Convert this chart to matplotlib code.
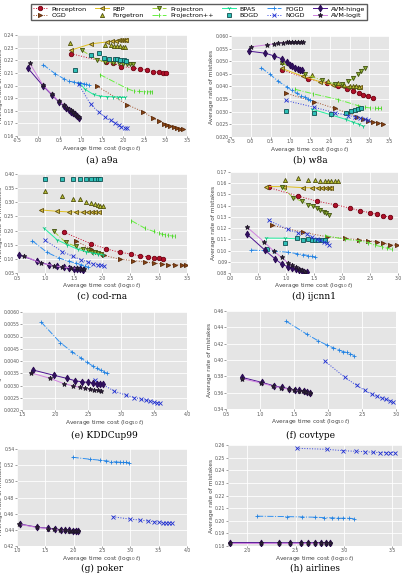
import matplotlib
matplotlib.use("Agg")
import matplotlib.pyplot as plt
import matplotlib.lines as mlines

methods = ["Perceptron", "OGD", "RBP", "Forgetron", "Projectron", "Projectron++",
           "BPAS", "BOGD", "FOGD", "NOGD", "AVM-hinge", "AVM-logit"]

# ---------------- (a) a9a ----------------
a9a = {
    "Perceptron": ([0.77, 1.60, 1.77, 1.95, 2.23, 2.40, 2.56, 2.71, 2.83, 2.94, 3.01],
                   [0.2252, 0.2184, 0.2178, 0.2150, 0.2140, 0.2131, 0.2122, 0.2110, 0.2104, 0.2100, 0.2097]),
    "RBP": ([0.77, 1.24, 1.62, 1.73, 1.83, 1.89, 1.95, 1.99, 2.03, 2.07],
            [0.2280, 0.2330, 0.2345, 0.2352, 0.2355, 0.2357, 0.2358, 0.2359, 0.2360, 0.2360]),
    "Forgetron": ([0.74, 1.58, 1.70, 1.78, 1.86, 1.93, 1.99, 2.05],
                  [0.2340, 0.2322, 0.2318, 0.2315, 0.2312, 0.2310, 0.2308, 0.2305]),
    "Projectron": ([1.03, 1.38, 1.58, 1.77, 1.89, 1.99, 2.09, 2.17, 2.23],
                   [0.2278, 0.2205, 0.2186, 0.2178, 0.2176, 0.2171, 0.2171, 0.2168, 0.2168]),
    "BOGD": ([0.86, 1.23, 1.42, 1.54, 1.67, 1.81, 1.85, 1.93, 2.01, 2.07],
             [0.2124, 0.2239, 0.2254, 0.2220, 0.2208, 0.2211, 0.2208, 0.2203, 0.2200, 0.2198]),
    "Projectron++": ([1.45, 2.09, 2.25, 2.36, 2.48, 2.56, 2.64, 2.68],
                     [0.2087, 0.1976, 0.1955, 0.1953, 0.1951, 0.1950, 0.1950, 0.1950]),
    "BPAS": ([0.97, 1.10, 1.30, 1.46, 1.62, 1.77, 1.87, 1.95, 2.03],
             [0.2022, 0.1970, 0.1929, 0.1915, 0.1912, 0.1910, 0.1908, 0.1906, 0.1905]),
    "FOGD": ([0.11, 0.40, 0.60, 0.73, 0.83, 0.93, 0.99, 1.07, 1.13, 1.19],
             [0.2166, 0.2093, 0.2054, 0.2033, 0.2028, 0.2022, 0.2017, 0.2015, 0.2010, 0.2007]),
    "NOGD": ([0.95, 1.23, 1.42, 1.58, 1.70, 1.81, 1.89, 1.95, 2.03, 2.09],
             [0.2009, 0.1853, 0.1788, 0.1749, 0.1723, 0.1702, 0.1684, 0.1672, 0.1666, 0.1664]),
    "OGD": ([1.38, 2.09, 2.46, 2.70, 2.83, 2.95, 3.03, 3.11, 3.19, 3.27, 3.34, 3.41],
            [0.1996, 0.1848, 0.1793, 0.1744, 0.1720, 0.1697, 0.1687, 0.1679, 0.1671, 0.1663, 0.1658, 0.1652]),
    "AVM-hinge": ([-0.25, 0.11, 0.32, 0.48, 0.60, 0.66, 0.72, 0.77, 0.82, 0.87, 0.91, 0.97],
                  [0.2140, 0.1998, 0.1925, 0.1871, 0.1840, 0.1819, 0.1806, 0.1793, 0.1783, 0.1772, 0.1760, 0.1740]),
    "AVM-logit": ([-0.20, 0.11, 0.32, 0.48, 0.60, 0.68, 0.76, 0.82, 0.87, 0.92, 0.96],
                  [0.2176, 0.2003, 0.1931, 0.1876, 0.1845, 0.1823, 0.1805, 0.1787, 0.1774, 0.1760, 0.1748]),
}

# ---------------- (b) w8a ----------------
w8a = {
    "AVM-logit": ([0.0, 0.40, 0.60, 0.70, 0.82, 0.91, 0.97, 1.04, 1.12, 1.20, 1.27, 1.33],
                  [0.0557, 0.0565, 0.0569, 0.0572, 0.0574, 0.0575, 0.0575, 0.0575, 0.0575, 0.0575, 0.0575, 0.0575]),
    "AVM-hinge": ([-0.04, 0.36, 0.60, 0.78, 0.91, 0.99, 1.05, 1.12, 1.19, 1.25, 1.31],
                  [0.0540, 0.0532, 0.0521, 0.0510, 0.0497, 0.0487, 0.0480, 0.0475, 0.0470, 0.0466, 0.0464]),
    "FOGD": ([0.26, 0.49, 0.70, 0.91, 1.04, 1.16, 1.27, 1.37, 1.44, 1.50],
             [0.0475, 0.0448, 0.0420, 0.0399, 0.0385, 0.0374, 0.0364, 0.0358, 0.0351, 0.0346]),
    "RBP": ([0.78, 1.33, 1.75, 2.07, 2.30, 2.47, 2.60, 2.68, 2.76],
            [0.0472, 0.0440, 0.0419, 0.0405, 0.0400, 0.0399, 0.0399, 0.0398, 0.0398]),
    "Forgetron": ([0.78, 1.54, 1.96, 2.20, 2.37, 2.50, 2.58, 2.67, 2.75],
                  [0.0497, 0.0446, 0.0422, 0.0412, 0.0405, 0.0402, 0.0401, 0.0400, 0.0399]),
    "Perceptron": ([0.78, 1.46, 1.92, 2.22, 2.43, 2.60, 2.73, 2.85, 2.98, 3.10],
                   [0.0466, 0.0430, 0.0414, 0.0400, 0.0392, 0.0383, 0.0375, 0.0368, 0.0361, 0.0353]),
    "Projectron": ([0.78, 1.37, 1.80, 2.13, 2.30, 2.47, 2.60, 2.71, 2.79, 2.88],
                   [0.0494, 0.0448, 0.0425, 0.0410, 0.0410, 0.0420, 0.0432, 0.0448, 0.0461, 0.0475]),
    "Projectron++": ([1.12, 1.58, 2.22, 2.72, 2.89, 3.02, 3.14, 3.23, 3.31],
                     [0.0389, 0.0371, 0.0348, 0.0324, 0.0318, 0.0315, 0.0314, 0.0313, 0.0313]),
    "OGD": ([0.88, 1.60, 2.13, 2.47, 2.68, 2.85, 2.98, 3.10, 3.23, 3.36],
            [0.0374, 0.0340, 0.0313, 0.0294, 0.0281, 0.0273, 0.0265, 0.0259, 0.0255, 0.0252]),
    "NOGD": ([0.88, 1.60, 2.13, 2.47, 2.64, 2.77, 2.89, 2.98],
             [0.0345, 0.0318, 0.0296, 0.0285, 0.0279, 0.0275, 0.0271, 0.0268]),
    "BOGD": ([0.88, 1.60, 2.03, 2.40, 2.55, 2.64, 2.72, 2.80],
             [0.0304, 0.0296, 0.0292, 0.0296, 0.0301, 0.0305, 0.0310, 0.0315]),
    "BPAS": ([1.55, 2.03, 2.40, 2.60, 2.74, 2.84],
             [0.0310, 0.0288, 0.0270, 0.0258, 0.0250, 0.0244]),
}

# ---------------- (c) cod-rna ----------------
codrna = {
    "BOGD": ([1.0, 1.30, 1.49, 1.61, 1.72, 1.80, 1.87, 1.93, 1.97],
             [0.381, 0.381, 0.381, 0.381, 0.381, 0.381, 0.381, 0.381, 0.381]),
    "Forgetron": ([0.99, 1.30, 1.48, 1.61, 1.72, 1.80, 1.87, 1.93, 1.97, 2.02],
                  [0.341, 0.322, 0.313, 0.311, 0.300, 0.297, 0.293, 0.291, 0.288, 0.286]),
    "RBP": ([0.92, 1.21, 1.42, 1.54, 1.66, 1.75, 1.82, 1.88, 1.94],
            [0.273, 0.268, 0.266, 0.266, 0.265, 0.265, 0.265, 0.264, 0.264]),
    "Projectron++": ([2.52, 2.76, 2.91, 3.00, 3.06, 3.12, 3.17, 3.23, 3.28],
                     [0.235, 0.208, 0.197, 0.191, 0.187, 0.185, 0.183, 0.181, 0.180]),
    "Perceptron": ([1.33, 1.81, 2.07, 2.31, 2.52, 2.67, 2.82, 2.91, 3.00, 3.07],
                   [0.194, 0.153, 0.136, 0.123, 0.117, 0.110, 0.107, 0.104, 0.102, 0.100]),
    "OGD": ([1.54, 1.81, 2.04, 2.31, 2.55, 2.76, 2.91, 3.06, 3.17, 3.29, 3.41, 3.48],
            [0.164, 0.134, 0.112, 0.099, 0.094, 0.089, 0.085, 0.082, 0.080, 0.079, 0.078, 0.077]),
    "Projectron": ([1.15, 1.36, 1.54, 1.66, 1.75, 1.82, 1.88, 1.93, 1.99],
                   [0.197, 0.158, 0.144, 0.134, 0.130, 0.126, 0.123, 0.120, 0.118]),
    "BPAS": ([0.98, 1.21, 1.39, 1.57, 1.72, 1.84, 1.93, 2.02],
             [0.208, 0.167, 0.150, 0.134, 0.126, 0.120, 0.117, 0.114]),
    "NOGD": ([1.0, 1.30, 1.48, 1.63, 1.75, 1.84, 1.93, 1.99, 2.04],
             [0.165, 0.126, 0.109, 0.097, 0.089, 0.083, 0.079, 0.077, 0.076]),
    "FOGD": ([0.77, 1.03, 1.24, 1.42, 1.54, 1.63, 1.70, 1.75],
             [0.164, 0.123, 0.103, 0.091, 0.085, 0.079, 0.076, 0.072]),
    "AVM-hinge": ([0.54, 0.86, 1.06, 1.21, 1.33, 1.42, 1.50, 1.56, 1.62, 1.66],
                  [0.114, 0.091, 0.079, 0.073, 0.070, 0.067, 0.065, 0.064, 0.063, 0.062]),
    "AVM-logit": ([0.62, 0.92, 1.15, 1.30, 1.45, 1.56, 1.63, 1.69],
                  [0.111, 0.085, 0.076, 0.071, 0.069, 0.066, 0.065, 0.064]),
}

# ---------------- (d) ijcnn1 ----------------
ijcnn1 = {
    "Forgetron": ([0.98, 1.22, 1.40, 1.52, 1.61, 1.69, 1.75, 1.81, 1.87, 1.93],
                  [0.1633, 0.1645, 0.1630, 0.1625, 0.1617, 0.1617, 0.1617, 0.1617, 0.1617, 0.1617]),
    "RBP": ([0.64, 0.97, 1.31, 1.46, 1.57, 1.64, 1.71, 1.76, 1.81],
            [0.1570, 0.1570, 0.1560, 0.1560, 0.1560, 0.1560, 0.1560, 0.1560, 0.1560]),
    "Perceptron": ([0.69, 1.22, 1.55, 1.88, 2.15, 2.33, 2.50, 2.62, 2.74, 2.86],
                   [0.1562, 0.1485, 0.1440, 0.1408, 0.1378, 0.1353, 0.1338, 0.1323, 0.1310, 0.1295]),
    "Projectron": ([0.92, 1.13, 1.28, 1.40, 1.49, 1.55, 1.61, 1.67, 1.72, 1.76],
                   [0.1570, 0.1470, 0.1440, 0.1410, 0.1393, 0.1378, 0.1362, 0.1347, 0.1338, 0.1317]),
    "NOGD": ([0.69, 1.03, 1.22, 1.37, 1.46, 1.55, 1.61, 1.67, 1.73, 1.76],
             [0.1270, 0.1188, 0.1157, 0.1148, 0.1117, 0.1102, 0.1093, 0.1077, 0.1065, 0.1053]),
    "OGD": ([0.75, 1.31, 1.73, 2.06, 2.30, 2.47, 2.62, 2.74, 2.86, 2.98],
            [0.1225, 0.1163, 0.1123, 0.1108, 0.1096, 0.1087, 0.1077, 0.1065, 0.1053, 0.1047]),
    "BPAS": ([0.64, 0.98, 1.28, 1.40, 1.52, 1.64, 1.70],
             [0.1111, 0.1110, 0.1102, 0.1102, 0.1102, 0.1102, 0.1102]),
    "BOGD": ([0.66, 0.98, 1.19, 1.31, 1.40, 1.46, 1.52, 1.58, 1.64, 1.69],
             [0.1016, 0.1071, 0.1111, 0.1093, 0.1102, 0.1096, 0.1093, 0.1090, 0.1090, 0.1093]),
    "Projectron++": ([1.70, 2.06, 2.30, 2.47, 2.59, 2.71, 2.80, 2.89],
                     [0.1133, 0.1100, 0.1087, 0.1071, 0.1047, 0.1034, 0.1022, 0.1010]),
    "FOGD": ([0.38, 0.78, 1.04, 1.19, 1.31, 1.40, 1.46, 1.52],
             [0.1004, 0.0995, 0.0985, 0.0973, 0.0964, 0.0955, 0.0949, 0.0942]),
    "AVM-hinge": ([0.30, 0.63, 0.81, 0.92, 1.03, 1.10, 1.17, 1.23, 1.28, 1.33, 1.37],
                  [0.1148, 0.1001, 0.0924, 0.0881, 0.0856, 0.0847, 0.0835, 0.0826, 0.0820, 0.0813, 0.0807]),
    "AVM-logit": ([0.30, 0.61, 0.78, 0.92, 1.03, 1.10, 1.17, 1.23, 1.28, 1.34],
                  [0.1210, 0.1077, 0.0995, 0.0939, 0.0893, 0.0872, 0.0850, 0.0838, 0.0826, 0.0813]),
}

# ---------------- (e) KDDCup99 ----------------
kdd = {
    "FOGD": ([1.79, 2.08, 2.26, 2.39, 2.49, 2.57, 2.63, 2.69, 2.74, 2.79],
             [0.00559, 0.00475, 0.00437, 0.00413, 0.00394, 0.00380, 0.00370, 0.00363, 0.00356, 0.00349]),
    "AVM-hinge": ([1.67, 1.98, 2.18, 2.31, 2.41, 2.50, 2.57, 2.63, 2.68, 2.73],
                  [0.00363, 0.00342, 0.00329, 0.00319, 0.00315, 0.00313, 0.00311, 0.00308, 0.00307, 0.00306]),
    "AVM-logit": ([1.63, 1.93, 2.13, 2.28, 2.38, 2.46, 2.53, 2.59, 2.65, 2.70],
                  [0.00352, 0.00329, 0.00308, 0.00298, 0.00292, 0.00288, 0.00285, 0.00283, 0.00280, 0.00279]),
    "NOGD": ([2.60, 2.90, 3.07, 3.20, 3.30, 3.38, 3.44, 3.50, 3.55, 3.59],
             [0.00322, 0.00277, 0.00261, 0.00251, 0.00245, 0.00240, 0.00235, 0.00233, 0.00230, 0.00228]),
}

# ---------------- (f) covtype ----------------
covtype = {
    "FOGD": ([1.38, 1.69, 1.85, 1.98, 2.07, 2.16, 2.22, 2.28, 2.33, 2.38],
             [0.4478, 0.4315, 0.4238, 0.4185, 0.4152, 0.4124, 0.4104, 0.4092, 0.4075, 0.4055]),
    "NOGD": ([1.95, 2.25, 2.42, 2.54, 2.64, 2.72, 2.79, 2.85, 2.91, 2.95],
             [0.3990, 0.3786, 0.3689, 0.3628, 0.3583, 0.3554, 0.3534, 0.3518, 0.3502, 0.3485]),
    "AVM-hinge": ([0.74, 1.03, 1.20, 1.32, 1.43, 1.51, 1.58, 1.64, 1.69, 1.74],
                  [0.3786, 0.3725, 0.3685, 0.3664, 0.3648, 0.3636, 0.3628, 0.3620, 0.3607, 0.3598]),
    "AVM-logit": ([0.73, 1.02, 1.19, 1.31, 1.42, 1.50, 1.57, 1.63, 1.68, 1.73],
                  [0.3772, 0.3718, 0.3680, 0.3660, 0.3643, 0.3631, 0.3623, 0.3615, 0.3603, 0.3594]),
}

# ---------------- (g) poker ----------------
poker = {
    "FOGD": ([1.98, 2.28, 2.46, 2.57, 2.66, 2.74, 2.81, 2.87, 2.93, 2.98],
             [0.5298, 0.5274, 0.5262, 0.5254, 0.5245, 0.5241, 0.5237, 0.5233, 0.5233, 0.5229]),
    "NOGD": ([2.69, 2.99, 3.17, 3.31, 3.41, 3.50, 3.57, 3.63, 3.69, 3.73],
             [0.4562, 0.4533, 0.4521, 0.4509, 0.4501, 0.4493, 0.4489, 0.4485, 0.4485, 0.4481]),
    "AVM-hinge": ([1.05, 1.36, 1.55, 1.67, 1.77, 1.85, 1.92, 1.98, 2.04, 2.08],
                  [0.4472, 0.4432, 0.4420, 0.4411, 0.4403, 0.4399, 0.4395, 0.4391, 0.4391, 0.4391]),
    "AVM-logit": ([1.04, 1.35, 1.54, 1.66, 1.76, 1.84, 1.91, 1.97, 2.03, 2.07],
                  [0.4468, 0.4430, 0.4415, 0.4405, 0.4398, 0.4394, 0.4390, 0.4388, 0.4386, 0.4386]),
}

# ---------------- (h) airlines ----------------
airlines = {
    "NOGD": ([2.51, 2.82, 2.99, 3.12, 3.22, 3.30, 3.37, 3.43, 3.48, 3.53],
             [0.2574, 0.2566, 0.2555, 0.2550, 0.2547, 0.2542, 0.2540, 0.2540, 0.2540, 0.2540]),
    "FOGD": ([2.10, 2.41, 2.57, 2.70, 2.79, 2.88, 2.94, 2.99, 3.05, 3.10],
             [0.2036, 0.2033, 0.2030, 0.2028, 0.2025, 0.2023, 0.2020, 0.2020, 0.2020, 0.2017]),
    "AVM-hinge": ([1.82, 2.14, 2.33, 2.44, 2.55, 2.63, 2.70, 2.76, 2.81, 2.86],
                  [0.1827, 0.1827, 0.1826, 0.1826, 0.1826, 0.1826, 0.1826, 0.1826, 0.1826, 0.1826]),
    "AVM-logit": ([1.82, 2.14, 2.33, 2.44, 2.55, 2.63, 2.70, 2.76, 2.81, 2.86],
                  [0.1825, 0.1825, 0.1825, 0.1825, 0.1825, 0.1825, 0.1825, 0.1825, 0.1825, 0.1825]),
}

styles = {
    "Perceptron":   dict(color="#C8102E", marker="o", ls=":", mfc="#B0102A", mec="#700010", ms=3.2),
    "OGD":          dict(color="#A0522D", marker=">", ls=":", mfc="#8B4513", mec="#5A2A0A", ms=3.0),
    "RBP":          dict(color="#E0C020", marker="<", ls="-", mfc="#D8C040", mec="#605010", ms=3.0),
    "Forgetron":    dict(color="#C8D050", marker="^", ls="", mfc="#B8C030", mec="#505010", ms=3.0),
    "Projectron":   dict(color="#9ACD32", marker="v", ls="-.", mfc="#8DB030", mec="#405010", ms=3.0),
    "Projectron++": dict(color="#66F040", marker="|", ls="-.", mfc="#66F040", mec="#44D020", ms=3.5),
    "BPAS":         dict(color="#20F0A0", marker="1", ls="-", mfc="#20F0A0", mec="#10C080", ms=3.0),
    "BOGD":         dict(color="#20B2AA", marker="s", ls="", mfc="#30C0B8", mec="#105050", ms=3.0),
    "FOGD":         dict(color="#3090F0", marker="+", ls="-.", mfc="#3090F0", mec="#2080E0", ms=3.5),
    "NOGD":         dict(color="#3040E0", marker="x", ls=":", mfc="#2030D0", mec="#2030D0", ms=3.2),
    "AVM-hinge":    dict(color="#4B1090", marker="d", ls="-", mfc="#301060", mec="#2A0A50", ms=3.5),
    "AVM-logit":    dict(color="#D080E0", marker="*", ls="-", mfc="#302040", mec="#201828", ms=3.5),
}

W, H = 404, 573
fig = plt.figure(figsize=(W / 100, H / 100), dpi=100)

def px_axes(l, r, t, b):
    return [l / W, 1 - b / H, (r - l) / W, (b - t) / H]

panels = [
    (a9a, px_axes(17, 187, 35, 136), (-0.5, 3.5), (0.16, 0.24),
     [-0.5, 0, 0.5, 1.0, 1.5, 2.0, 2.5, 3.0, 3.5], [0.16, 0.17, 0.18, 0.19, 0.20, 0.21, 0.22, 0.23, 0.24], "%.2f", "(a) a9a", 160),
    (w8a, px_axes(231, 389, 36, 137), (-0.5, 3.5), (0.020, 0.060),
     [-0.5, 0, 0.5, 1.0, 1.5, 2.0, 2.5, 3.0, 3.5], [0.020, 0.025, 0.030, 0.035, 0.040, 0.045, 0.050, 0.055, 0.060], "%.3f", "(b) w8a", 160),
    (codrna, px_axes(17, 187, 174, 273), (0.5, 3.5), (0.05, 0.40),
     [0.5, 1.0, 1.5, 2.0, 2.5, 3.0, 3.5], [0.05, 0.10, 0.15, 0.20, 0.25, 0.30, 0.35, 0.40], "%.2f", "(c) cod-rna", 296),
    (ijcnn1, px_axes(230, 398, 172, 273), (0.0, 3.0), (0.08, 0.17),
     [0.0, 0.5, 1.0, 1.5, 2.0, 2.5, 3.0], [0.08, 0.09, 0.10, 0.11, 0.12, 0.13, 0.14, 0.15, 0.16, 0.17], "%.2f", "(d) ijcnn1", 296),
    (kdd, px_axes(22, 187, 312, 410), (1.5, 4.0), (0.0020, 0.0060),
     [1.5, 2.0, 2.5, 3.0, 3.5, 4.0], [0.0020, 0.0025, 0.0030, 0.0035, 0.0040, 0.0045, 0.0050, 0.0055, 0.0060], "%.4f", "(e) KDDCup99", 435),
    (covtype, px_axes(226, 396, 311, 409), (0.5, 3.0), (0.34, 0.46),
     [0.5, 1.0, 1.5, 2.0, 2.5, 3.0], [0.34, 0.36, 0.38, 0.40, 0.42, 0.44, 0.46], "%.2f", "(f) covtype", 435),
    (poker, px_axes(17, 187, 449, 546), (1.0, 4.0), (0.42, 0.54),
     [1.0, 1.5, 2.0, 2.5, 3.0, 3.5, 4.0], [0.42, 0.44, 0.46, 0.48, 0.50, 0.52, 0.54], "%.2f", "(g) poker", 568),
    (airlines, px_axes(228, 402, 445, 546), (1.8, 3.6), (0.18, 0.26),
     [2.0, 2.5, 3.0, 3.5], [0.18, 0.19, 0.20, 0.21, 0.22, 0.23, 0.24, 0.25, 0.26], "%.2f", "(h) airlines", 568),
]

for data, rect, xl, yl, xt, yt, yfmt, caption, cap_y in panels:
    ax = fig.add_axes(rect)
    ax.set_facecolor("#E5E5E5")
    for s in ax.spines.values():
        s.set_visible(False)
    ax.grid(True, color="white", lw=0.6)
    ax.set_axisbelow(True)
    for m in methods:
        if m in data:
            xs, ys = data[m]
            st = dict(styles[m])
            ls = st.pop("ls")
            ax.plot(xs, ys, linestyle=ls if ls else "none", lw=0.7,
                    markeredgewidth=0.6, **st, label=m)
    ax.set_xlim(*xl)
    ax.set_ylim(*yl)
    ax.set_xticks(xt)
    ax.set_yticks(yt)
    ax.set_xticklabels(["%.1f" % v for v in xt])
    ax.set_yticklabels([yfmt % v for v in yt])
    ax.tick_params(labelsize=3.3, colors="#555555", length=1.2, width=0.4, pad=0.6)
    ax.set_xlabel(r"Average time cost ($\log_{10}t$)", fontsize=4.2, color="#444444", labelpad=0.5)
    ax.set_ylabel("Average rate of mistakes", fontsize=4.2, color="#444444", labelpad=1)
    cx = rect[0] + rect[2] / 2
    fig.text(cx, 1 - cap_y / H, caption, ha="center", va="center", fontsize=6.5,
             family=["DejaVu Serif"])

leg_handles = []
for m in methods:
    st = dict(styles[m])
    ls = st.pop("ls")
    leg_handles.append(mlines.Line2D([], [], linestyle=ls if ls else "none", lw=0.7,
                                     markeredgewidth=0.6, **st, label=m))
fig.legend(handles=leg_handles, labels=methods, loc="upper center", ncol=6,
           bbox_to_anchor=(0.493, 0.998), fontsize=4.6, frameon=True, fancybox=False,
           edgecolor="#333333", handlelength=2.2, columnspacing=1.3, handletextpad=0.6,
           borderpad=0.3, labelspacing=0.15)

fig.savefig("out.png", dpi=100)
